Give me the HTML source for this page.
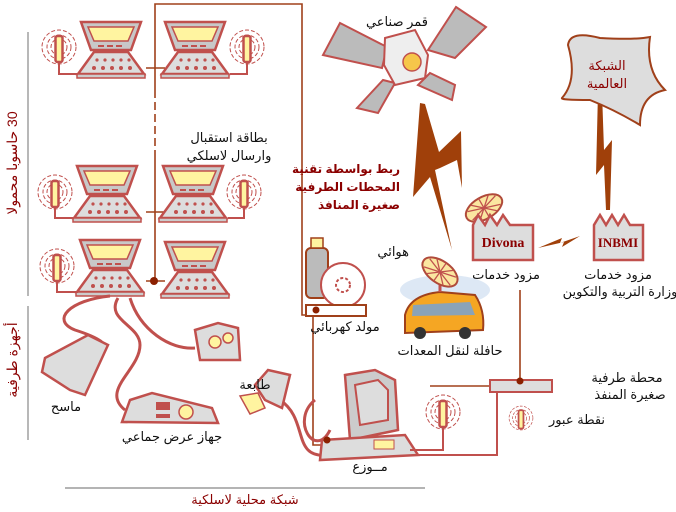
<!DOCTYPE html>
<html><head><meta charset="utf-8"><style>
body{margin:0;background:#fff}
svg{display:block}
text{font-family:"Liberation Sans","DejaVu Sans",sans-serif;font-size:13px;fill:#111}
.r{fill:#8b0000;font-weight:bold}
</style></head><body>
<svg width="676" height="512" viewBox="0 0 676 512" xmlns="http://www.w3.org/2000/svg">
<defs>
<g id="lap">
<polygon points="5,0 65,0 55,28 15,28" fill="#c8c8c8" stroke="#c0504d" stroke-width="2.5"/>
<polygon points="12,5 58,5 52,19 18,19" fill="#fff4a0" stroke="#c0504d" stroke-width="1.5"/>
<line x1="22" y1="24" x2="48" y2="24" stroke="#c0504d" stroke-width="2" stroke-dasharray="6,3"/>
<polygon points="18,30 52,30 68,52 2,52" fill="#ddd" stroke="#c0504d" stroke-width="2.5"/>
<rect x="1" y="52" width="68" height="4" fill="#ccc" stroke="#c0504d" stroke-width="1.5"/>
<g fill="#c0504d"><circle cx="21" cy="38" r="1.6"/><circle cx="29" cy="38" r="1.6"/><circle cx="37" cy="38" r="1.6"/><circle cx="45" cy="38" r="1.6"/><circle cx="53" cy="38" r="1.6"/>
<circle cx="18" cy="46" r="2"/><circle cx="27" cy="46" r="2"/><circle cx="36" cy="46" r="2"/><circle cx="45" cy="46" r="2"/><circle cx="54" cy="46" r="2"/></g>
</g>
<g id="ant">
<g fill="none" stroke="#c0504d" stroke-width="1" stroke-dasharray="4,2"><circle r="8"/><circle r="12"/><circle r="17"/></g>
<rect x="-3.5" y="-11" width="7" height="26" rx="2" fill="#fff4a0" stroke="#c0504d" stroke-width="2.5"/>
</g>
<g id="dish">
<ellipse rx="20" ry="11" fill="#fbe6a0" stroke="#b04a3a" stroke-width="2"/>
<g stroke="#c0504d" stroke-width="1.3"><line x1="-16" y1="-5" x2="16" y2="5"/><line x1="-10" y1="-9" x2="10" y2="9"/><line x1="0" y1="-11" x2="0" y2="11"/><line x1="10" y1="-9" x2="-10" y2="9"/><line x1="16" y1="-5" x2="-16" y2="5"/></g>
</g>
</defs>
<g stroke="#888" stroke-width="1.2"><line x1="28" y1="32" x2="28" y2="296"/><line x1="28" y1="306" x2="28" y2="440"/><line x1="65" y1="488" x2="425" y2="488"/></g>
<g stroke="#a0401a" stroke-width="1.6" fill="none">
<polyline points="155,90 155,4 302,4 302,305"/>
<line x1="155" y1="90" x2="155" y2="155" stroke-dasharray="8,4"/>
<line x1="155" y1="155" x2="155" y2="280"/>
<line x1="146" y1="68" x2="165" y2="68"/><line x1="146" y1="212" x2="165" y2="212"/><line x1="146" y1="281" x2="165" y2="281"/>
<polyline points="302,305 302,315 313,315 313,445 330,445"/>
<polyline points="430,386 520,386 520,290"/>
</g>
<circle cx="154" cy="281" r="4" fill="#8b2000"/>
<use href="#ant" x="59" y="47"/><use href="#lap" x="76" y="22"/><use href="#lap" x="160" y="22"/><use href="#ant" x="247" y="47"/>
<use href="#ant" x="55" y="192"/><use href="#lap" x="72" y="166"/><use href="#lap" x="158" y="166"/><use href="#ant" x="244" y="192"/>
<use href="#ant" x="57" y="266"/><use href="#lap" x="75" y="240"/><use href="#lap" x="160" y="242"/>
<g stroke="#c0504d" stroke-width="2" fill="none">
<polyline points="59,62 59,74 78,74"/><polyline points="247,62 247,74 230,74"/>
<polyline points="55,207 55,218 74,218"/><polyline points="244,207 244,218 228,218"/>
<polyline points="57,281 57,292 78,292"/>
</g>
<g stroke="#c0504d" stroke-width="3" fill="none">
<path d="M110,296 C70,300 50,320 75,330 C100,338 110,345 100,350"/>
<path d="M118,298 C105,320 140,325 140,345 C140,370 100,390 125,410"/>
<path d="M130,298 C140,330 170,350 195,348"/>
<path d="M280,400 C310,420 290,460 330,455"/>
<path d="M315,400 C290,420 315,460 330,430"/>
</g>
<polygon points="45,358 88,335 108,345 85,395 70,390 42,372" fill="#ddd" stroke="#c0504d" stroke-width="2.5"/>
<polygon points="195,330 218,323 238,328 240,360 200,360" fill="#ddd" stroke="#c0504d" stroke-width="2.5"/>
<circle cx="215" cy="342" r="6" fill="#fff4a0" stroke="#c0504d" stroke-width="1.5"/>
<circle cx="228" cy="338" r="5" fill="#fff4a0" stroke="#c0504d" stroke-width="1.5"/>
<polygon points="130,400 152,393 212,408 218,423 122,422" fill="#ddd" stroke="#c0504d" stroke-width="2.5"/>
<rect x="156" y="402" width="14" height="8" fill="#c0504d"/><rect x="156" y="414" width="14" height="4" fill="#c0504d"/>
<circle cx="186" cy="412" r="7" fill="#fff4a0" stroke="#c0504d" stroke-width="1.5"/>
<polygon points="255,385 268,370 290,375 282,408 265,400" fill="#ddd" stroke="#c0504d" stroke-width="2.5"/>
<polygon points="240,396 258,393 265,408 250,414" fill="#fff4a0" stroke="#c0504d" stroke-width="1.5"/>
<polygon points="345,375 375,370 395,380 398,430 350,440" fill="#ccc" stroke="#c0504d" stroke-width="2.5"/>
<polygon points="355,385 378,380 388,390 388,420 360,425" fill="#ddd" stroke="#c0504d" stroke-width="2"/>
<polygon points="322,440 405,435 418,455 320,460" fill="#ddd" stroke="#c0504d" stroke-width="2.5"/>
<rect x="374" y="440" width="20" height="9" fill="#fff4a0" stroke="#c0504d"/>
<circle cx="327" cy="440" r="3.5" fill="#8b2000"/>
<use href="#ant" x="443" y="412"/>
<polyline points="443,427 443,450 410,450" stroke="#c0504d" stroke-width="2" fill="none"/>
<polyline points="497,390 497,455 416,455" stroke="#c0504d" stroke-width="2" fill="none"/>
<rect x="490" y="380" width="62" height="12" fill="#ddd" stroke="#c0504d" stroke-width="2"/>
<circle cx="520" cy="381" r="3.5" fill="#8b2000"/>
<g transform="translate(521,418) scale(0.7)"><use href="#ant"/></g>
<rect x="306" y="248" width="22" height="50" rx="5" fill="#bbb" stroke="#a0401a" stroke-width="2"/>
<rect x="311" y="238" width="12" height="10" fill="#fff4a0" stroke="#a0401a" stroke-width="1.5"/>
<circle cx="343" cy="285" r="22" fill="#fff" stroke="#c0504d" stroke-width="2"/>
<circle cx="343" cy="285" r="7" fill="#fff" stroke="#c0504d" stroke-width="2" stroke-dasharray="3,2"/>
<rect x="306" y="305" width="60" height="11" fill="#fff" stroke="#a0401a" stroke-width="2"/>
<circle cx="316" cy="310" r="3.5" fill="#8b2000"/>
<ellipse cx="445" cy="290" rx="45" ry="15" fill="#dde8f5"/>
<path d="M405,315 Q410,295 440,292 L475,295 Q485,310 483,330 L405,333 Z" fill="#f5a623" stroke="#a0401a" stroke-width="2"/>
<path d="M413,305 L470,302 L475,315 L412,316 Z" fill="#8aa3b8"/>
<circle cx="420" cy="333" r="6" fill="#333"/><circle cx="465" cy="333" r="6" fill="#333"/>
<line x1="440" y1="280" x2="440" y2="292" stroke="#c0504d" stroke-width="3"/>
<g transform="translate(440,272) rotate(35)"><use href="#dish"/></g>
<line x1="482" y1="216" x2="482" y2="228" stroke="#c0504d" stroke-width="3"/>
<g transform="translate(484,208) rotate(-30)"><use href="#dish"/></g>
<polygon points="473,260 473,225 478,215 485,225 490,215 497,225 503,215 510,225 533,225 533,260" fill="#ddd" stroke="#c0504d" stroke-width="2.5"/>
<text x="503" y="247" style="font-family:'Liberation Serif',serif;font-weight:bold;font-size:14px;fill:#8b0000" text-anchor="middle">Divona</text>
<polygon points="594,260 594,225 600,215 606,225 612,215 618,225 624,215 630,225 643,225 643,260" fill="#ddd" stroke="#c0504d" stroke-width="2.5"/>
<text x="618" y="247" style="font-family:'Liberation Serif',serif;font-weight:bold;font-size:13px;fill:#8b0000" text-anchor="middle">INBMI</text>
<g fill="#a0400a">
<polygon points="538,248 562,238 560,243 580,236 562,247 564,242"/>
<polygon points="420,103 425,104 439,152 461,131 462,188 457,160 440,168 435,170 452,250 430,177 413,197"/>
<polygon points="598,92 602,92 604,150 612,140 610,210 606,210 604,165 596,175"/>
</g>
<path d="M568,45 Q570,30 600,38 Q635,40 650,37 Q645,70 665,90 Q640,95 640,125 Q615,110 590,100 Q560,100 562,98 Q578,80 568,45 Z" fill="#ddd" stroke="#a0401a" stroke-width="2"/>
<g stroke="#c0504d" stroke-width="2" fill="#bbb">
<polygon points="340,23 387,47 382,68 323,55"/>
<polygon points="456,7 486,27 455,58 428,50"/>
<polygon points="383,80 395,83 378,113 357,108"/>
<polygon points="430,73 455,85 452,100 418,85"/>
<polygon points="385,38 415,30 428,55 425,78 395,85 384,65" fill="#eee"/>
</g>
<circle cx="412" cy="62" r="9" fill="#f6c64a" stroke="#c0504d" stroke-width="1.5"/>
<text x="428" y="26" text-anchor="end">قمر صناعي</text>
<text x="607" y="70" text-anchor="middle" style="fill:#8b0000">الشبكة</text>
<text x="607" y="88" text-anchor="middle" style="fill:#8b0000">العالمية</text>
<text x="400" y="173" text-anchor="end" class="r" style="font-size:12px">ربط بواسطة تقنية</text>
<text x="400" y="191" text-anchor="end" class="r" style="font-size:12px">المحطات الطرفية</text>
<text x="400" y="209" text-anchor="end" class="r" style="font-size:12px">صغيرة المنافذ</text>
<text x="229" y="142" text-anchor="middle">بطاقة استقبال</text>
<text x="229" y="160" text-anchor="middle">وارسال لاسلكي</text>
<text x="409" y="256" text-anchor="end">هوائي</text>
<text x="506" y="279" text-anchor="middle">مزود خدمات</text>
<text x="618" y="279" text-anchor="middle">مزود خدمات</text>
<text x="620" y="296" text-anchor="middle">وزارة التربية والتكوين</text>
<text x="345" y="331" text-anchor="middle">مولد كهربائي</text>
<text x="450" y="355" text-anchor="middle">حافلة لنقل المعدات</text>
<text x="627" y="382" text-anchor="middle">محطة طرفية</text>
<text x="630" y="399" text-anchor="middle">صغيرة المنفذ</text>
<text x="577" y="424" text-anchor="middle">نقطة عبور</text>
<text x="370" y="471" text-anchor="middle">مــوزع</text>
<text x="255" y="389" text-anchor="middle">طابعة</text>
<text x="172" y="441" text-anchor="middle">جهاز عرض جماعي</text>
<text x="66" y="411" text-anchor="middle">ماسح</text>
<text x="245" y="504" text-anchor="middle" style="fill:#8b0000">شبكة محلية لاسلكية</text>
<text transform="translate(17,163) rotate(-90)" text-anchor="middle" direction="rtl" style="fill:#8b0000;font-size:14px;direction:rtl">30 حاسوبا محمولا</text>
<text transform="translate(17,360) rotate(-90)" text-anchor="middle" style="fill:#8b0000;font-size:14px">أجهزة طرفية</text>
</svg>
</body></html>
